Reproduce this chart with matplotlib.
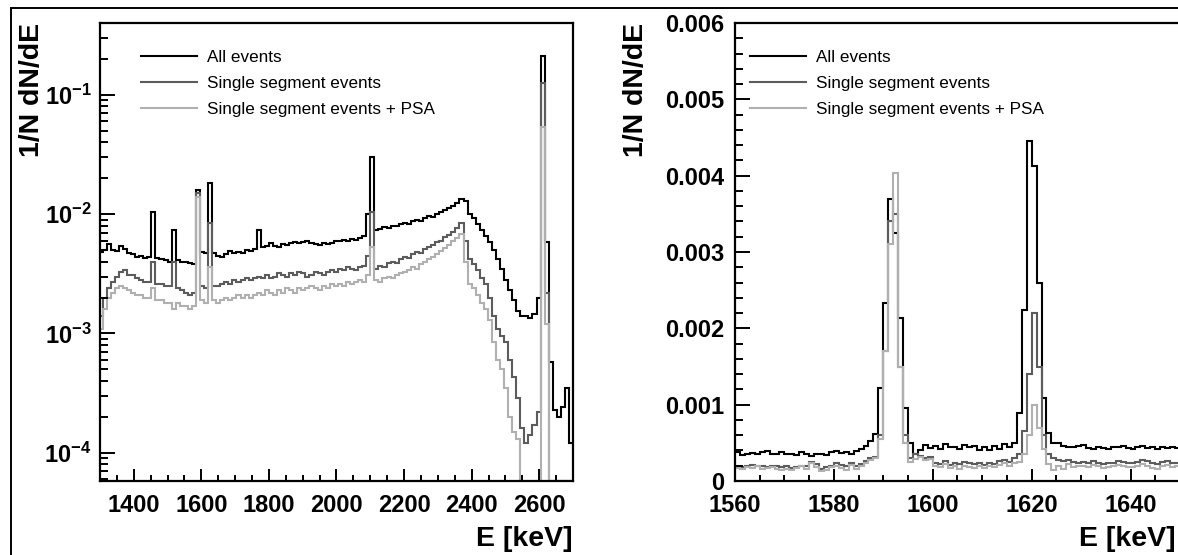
import numpy as np
import matplotlib
matplotlib.use("Agg")
import matplotlib.pyplot as plt
from matplotlib.patches import Rectangle
from matplotlib.ticker import MultipleLocator, FixedLocator, LogLocator, NullFormatter

plt.rcParams['font.family'] = ['Liberation Sans', 'DejaVu Sans']
plt.rcParams['mathtext.fontset'] = 'custom'
plt.rcParams['mathtext.rm'] = 'Liberation Sans:bold'
plt.rcParams['mathtext.it'] = 'Liberation Sans:bold'
plt.rcParams['mathtext.bf'] = 'Liberation Sans:bold'

labels = ["All events", "Single segment events", "Single segment events + PSA"]
colors = ["black", "#5c5c5c", "#b0b0b0"]

# ---- left panel: 12 keV bins from 1296 to 2700 keV ----
bin_lo, bin_w, n_bins = 1296, 12, 117
all_events = [
    0.0048, 0.0050, 0.0056, 0.0050, 0.0049, 0.0054, 0.0051, 0.0047, 0.0046, 0.0044,
    0.0045, 0.0043, 0.0044, 0.0105, 0.0043, 0.0042, 0.0041, 0.0040, 0.0074, 0.0041,
    0.0040, 0.0040, 0.0039, 0.0038, 0.0160, 0.0048, 0.0047, 0.0183, 0.0047, 0.0045,
    0.0044, 0.0046, 0.0049, 0.0047, 0.0048, 0.0047, 0.0050, 0.0049, 0.0051, 0.0074,
    0.0053, 0.0054, 0.0057, 0.0054, 0.0053, 0.0056, 0.0055, 0.0057, 0.0058, 0.0057,
    0.0058, 0.0059, 0.0057, 0.0056, 0.0055, 0.0057, 0.0056, 0.0057, 0.0060, 0.0059,
    0.0061, 0.0060, 0.0062, 0.0061, 0.0063, 0.0065, 0.0100, 0.0300, 0.0073, 0.0075,
    0.0078, 0.0076, 0.0080, 0.0079, 0.0082, 0.0085, 0.0083, 0.0087, 0.0090, 0.0088,
    0.0093, 0.0097, 0.0095, 0.0100, 0.0104, 0.0108, 0.0112, 0.0117, 0.0125, 0.0135,
    0.0128, 0.0100, 0.0092, 0.0082, 0.0074, 0.0066, 0.0058, 0.0050, 0.0042, 0.0035,
    0.0028, 0.0023, 0.0019, 0.00155, 0.00140, 0.00140, 0.00135, 0.00145, 0.0020, 0.21,
    0.0058, 0.00058, 0.00023, 0.00020, 0.00024, 0.00035, 0.00012,
]
single_seg = [
    0.0014, 0.0020, 0.0024, 0.0027, 0.0030, 0.0033, 0.0034, 0.0031, 0.0031, 0.0029,
    0.0028, 0.0027, 0.0027, 0.0040, 0.0026, 0.0026, 0.0025, 0.0025, 0.0040, 0.0024,
    0.0023, 0.0022, 0.0021, 0.0022, 0.0150, 0.0025, 0.0024, 0.0085, 0.0025, 0.0025,
    0.0026, 0.0027, 0.0026, 0.0028, 0.0027, 0.0028, 0.0029, 0.0028, 0.0029, 0.0030,
    0.0029, 0.0031, 0.0029, 0.0030, 0.0032, 0.0031, 0.0030, 0.0032, 0.0031, 0.0033,
    0.0032, 0.0030, 0.0031, 0.0033, 0.0032, 0.0031, 0.0033, 0.0034, 0.0033, 0.0035,
    0.0034, 0.0036, 0.0035, 0.0034, 0.0036, 0.0037, 0.0045, 0.0105, 0.0035, 0.0037,
    0.0036, 0.0039, 0.0040, 0.0039, 0.0042, 0.0044, 0.0043, 0.0046, 0.0048, 0.0047,
    0.0051, 0.0053, 0.0055, 0.0058, 0.0060, 0.0064, 0.0067, 0.0071, 0.0076, 0.0085,
    0.0060, 0.0042, 0.0038, 0.0034, 0.0029, 0.0026, 0.0020, 0.0014, 0.0011, 0.00095,
    0.00085, 0.00060, 0.00043, 0.00029, 0.00016, 0.00012, 0.00014, 0.00017, 0.00022, 0.126,
    0.0022, 0, 0, 0, 0, 0, 0,
]
single_psa = [
    0.0011, 0.0016, 0.0020, 0.0022, 0.0024, 0.0025, 0.0024, 0.0023, 0.0022, 0.0021,
    0.0021, 0.0020, 0.0020, 0.0024, 0.0019, 0.0019, 0.0018, 0.0018, 0.0016, 0.0018,
    0.0017, 0.0017, 0.0016, 0.0017, 0.0140, 0.0019, 0.0018, 0.0036, 0.0019, 0.0018,
    0.0019, 0.0020, 0.0019, 0.0020, 0.0021, 0.0020, 0.0021, 0.0020, 0.0021, 0.0022,
    0.0021, 0.0023, 0.0022, 0.0021, 0.0023, 0.0022, 0.0024, 0.0023, 0.0022, 0.0024,
    0.0023, 0.0024, 0.0025, 0.0024, 0.0023, 0.0025, 0.0024, 0.0026, 0.0025, 0.0026,
    0.0025, 0.0027, 0.0026, 0.0027, 0.0028, 0.0027, 0.0031, 0.0053, 0.0028, 0.0027,
    0.0029, 0.0030, 0.0029, 0.0031, 0.0032, 0.0033, 0.0034, 0.0036, 0.0035, 0.0038,
    0.0040, 0.0042, 0.0044, 0.0046, 0.0049, 0.0052, 0.0055, 0.0059, 0.0063, 0.0068,
    0.0040, 0.0026, 0.0024, 0.0021, 0.0018, 0.0016, 0.0013, 0.00085, 0.00060, 0.00050,
    0.00035, 0.00020, 0.00015, 0.00013, 0, 0, 0, 0, 0, 0.054,
    0.0012, 0, 0, 0, 0, 0, 0,
]

# ---- right panel: 1 keV bins from 1560 keV, values in units of 1e-4 ----
zoom_lo, zoom_n = 1560, 90
all_zoom = [
    3.8, 3.4, 3.6, 3.7, 3.5, 3.8, 3.9, 3.6, 3.5, 3.8,
    3.5, 3.6, 3.4, 3.8, 3.5, 3.3, 3.5, 3.6, 3.4, 3.8,
    3.9, 3.7, 3.8, 3.6, 3.9, 4.2, 4.6, 5.2, 6.2, 12.2,
    23.3, 37.0, 32.5, 21.4, 9.6, 5.0, 3.6, 4.0, 4.7, 4.3,
    4.6, 4.2, 4.8, 4.4, 4.5, 4.2, 4.7, 4.4, 4.6, 4.1,
    4.5, 4.0, 4.6, 4.2, 4.8, 4.4, 5.0, 8.9, 22.4, 44.5,
    41.3, 26.0, 10.9, 6.3, 5.0, 5.0, 4.6, 4.4, 4.5, 4.6,
    4.7, 4.3, 4.2, 4.5, 4.3, 4.2, 4.4, 4.5, 4.6, 4.3,
    4.2, 4.4, 4.6, 4.3, 4.4, 4.2, 4.5, 4.3, 4.4, 4.3,
]
single_zoom = [
    2.0, 1.8, 1.9, 2.1, 1.9, 2.0, 1.8, 1.9, 2.0, 1.8,
    1.9, 1.7, 1.8, 2.0, 1.9, 2.5, 2.2, 1.6, 1.8, 2.0,
    2.3, 2.1, 1.9, 2.4, 2.0, 2.2, 2.6, 3.0, 3.2, 6.0,
    17.0, 34.0, 35.0, 15.0, 6.0, 3.0, 3.5, 3.3, 3.0, 3.2,
    2.4, 2.2, 2.6, 2.1, 2.3, 2.2, 2.5, 2.4, 2.2, 2.3,
    2.1, 2.4, 2.2, 2.6, 2.8, 2.5, 3.0, 3.5, 6.5, 14.0,
    22.0, 15.0, 6.0, 3.5, 3.0, 2.8, 2.6, 2.8, 2.5, 2.4,
    2.5, 2.3, 2.6, 2.4, 2.2, 2.3, 2.4, 2.6, 2.5, 2.4,
    2.3, 2.5, 2.7, 2.6, 2.4, 2.2, 2.5, 2.6, 2.3, 2.4,
]
psa_zoom = [
    1.7, 1.6, 1.8, 1.7, 1.9, 1.6, 1.7, 1.8, 1.6, 1.5,
    1.6, 1.5, 1.7, 1.9, 1.6, 2.3, 1.8, 1.3, 1.5, 1.8,
    2.0, 1.7, 1.5, 2.1, 1.6, 1.9, 2.3, 2.8, 3.0, 5.5,
    17.0, 31.0, 40.4, 15.0, 5.0, 2.5, 2.9, 3.1, 2.7, 2.9,
    2.0, 1.8, 2.2, 1.7, 1.9, 1.6, 2.0, 1.8, 1.7, 1.9,
    1.7, 2.0, 1.8, 2.1, 2.3, 2.0, 2.4, 2.5, 3.5, 6.0,
    9.9, 7.0, 4.2, 2.2, 1.4, 2.0, 1.6, 2.2, 1.8, 1.9,
    2.0, 1.8, 2.1, 1.9, 1.7, 1.8, 2.0, 2.1, 1.9, 1.8,
    1.8, 2.0, 2.2, 1.9, 1.7, 1.6, 2.0, 2.1, 1.8, 1.9,
]

W, H = 1178, 555
fig = plt.figure(figsize=(W / 100, H / 100), dpi=100)

# outer frame (cut by the image border on the right and bottom)
fig.add_artist(Rectangle((11 / W, -0.2), 2.0, 1.2 - 8 / H, transform=fig.transFigure,
                         fill=False, lw=1.4, color="black"))

ax1 = fig.add_axes([100 / W, 1 - 481 / H, 473 / W, 458 / H])
ax2 = fig.add_axes([735 / W, 1 - 481 / H, 445 / W, 458 / H])

lw = 1.5
ylo = 5.8e-5
edges = bin_lo + bin_w * np.arange(n_bins + 1)
for vals, c, lab in zip([all_events, single_seg, single_psa], colors, labels):
    ax1.stairs(np.clip(vals, ylo, None), edges, color=c, lw=lw, baseline=None, label=lab)
ax1.set_yscale("log")
ax1.set_xlim(1300, 2700)
ax1.set_ylim(ylo, 0.40)

zedges = zoom_lo + np.arange(zoom_n + 1)
for vals, c, lab in zip([all_zoom, single_zoom, psa_zoom], colors, labels):
    ax2.stairs(np.array(vals) * 1e-4, zedges, color=c, lw=lw, baseline=None, label=lab)
ax2.set_xlim(1560, 1650)
ax2.set_ylim(0, 0.006)

for ax in (ax1, ax2):
    for s in ax.spines.values():
        s.set_linewidth(1.6)
    ax.tick_params(which="both", direction="in", top=False, right=False, width=1.4,
                   labelsize=17)
    ax.tick_params(axis="x", which="major", length=9, pad=9)
    ax.tick_params(axis="x", which="minor", length=4.5)
    ax.tick_params(axis="y", which="major", length=11, pad=6 if ax is ax1 else 8)
    ax.tick_params(axis="y", which="minor", length=5.5)
    ax.legend(loc="upper left", frameon=False, fontsize=12.3, handlelength=3.25,
              handletextpad=0.6, labelspacing=0.66, borderpad=0, borderaxespad=0,
              bbox_to_anchor=(0.087 if ax is ax1 else 0.034, 0.942))

ax1.xaxis.set_major_locator(MultipleLocator(200))
ax1.xaxis.set_minor_locator(MultipleLocator(50))
ax1.yaxis.set_major_locator(FixedLocator([1e-4, 1e-3, 1e-2, 1e-1]))
ax1.set_yticklabels([r"$10^{-4}$", r"$10^{-3}$", r"$10^{-2}$", r"$10^{-1}$"])
ax1.yaxis.set_minor_locator(LogLocator(base=10, subs=np.arange(2, 10), numticks=20))
ax1.yaxis.set_minor_formatter(NullFormatter())

ax2.xaxis.set_major_locator(MultipleLocator(20))
ax2.xaxis.set_minor_locator(MultipleLocator(5))
ax2.yaxis.set_major_locator(MultipleLocator(0.001))
ax2.yaxis.set_minor_locator(MultipleLocator(0.0002))
ax2.set_yticks([0, 0.001, 0.002, 0.003, 0.004, 0.005, 0.006])
ax2.set_yticklabels(["0", "0.001", "0.002", "0.003", "0.004", "0.005", "0.006"])

for ax in (ax1, ax2):
    for t in ax.get_xticklabels() + ax.get_yticklabels():
        t.set_fontweight("bold")

lab_kw = dict(fontsize=20.5, fontweight="bold")
fig.text(32 / W, 1 - 23 / H, "1/N dN/dE", rotation=90, ha="center", va="top", **lab_kw)
fig.text(636 / W, 1 - 23 / H, "1/N dN/dE", rotation=90, ha="center", va="top", **lab_kw)
fig.text(573 / W, 1 - 539 / H, "E [keV]", ha="right", va="center", **lab_kw)
fig.text(1176 / W, 1 - 539 / H, "E [keV]", ha="right", va="center", **lab_kw)

fig.savefig("out.png", dpi=100)
